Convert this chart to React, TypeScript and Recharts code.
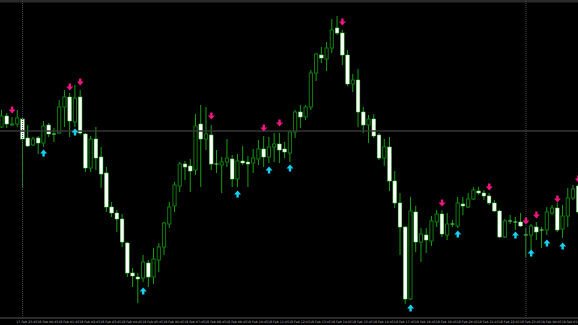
import React from 'react';
import { ComposedChart, Bar, Scatter, XAxis, YAxis, ReferenceLine } from 'recharts';

// M15 bars, oldest first
const opens = [
  1.08191, 1.08202, 1.08193, 1.08194, 1.08199, 1.0818, 1.08173, 1.0818, 1.08175, 1.08193,
  1.08184, 1.08185, 1.08211, 1.08221, 1.08196, 1.08221, 1.08184, 1.0815, 1.08179, 1.08161,
  1.08145, 1.08111, 1.08105, 1.08099, 1.08075, 1.08045, 1.08041, 1.0804, 1.08055, 1.08041,
  1.08058, 1.08071, 1.08094, 1.08112, 1.08132, 1.08154, 1.08152, 1.08148, 1.08194, 1.08179,
  1.08183, 1.08154, 1.08153, 1.08156, 1.08159, 1.08139, 1.08157, 1.08156, 1.08155, 1.08159,
  1.08169, 1.08161, 1.08171, 1.08174, 1.08169, 1.08165, 1.08186, 1.08206, 1.08201, 1.08211,
  1.08245, 1.08263, 1.08259, 1.0827, 1.0829, 1.08285, 1.08263, 1.08234, 1.08238, 1.08206,
  1.08193, 1.08199, 1.08183, 1.0816, 1.08171, 1.08137, 1.08115, 1.08091, 1.08019, 1.08106,
  1.08076, 1.08083, 1.08077, 1.08096, 1.08104, 1.08083, 1.08094, 1.08092, 1.08114, 1.08111,
  1.08119, 1.08127, 1.08125, 1.08122, 1.08115, 1.08107, 1.08081, 1.08097, 1.08096, 1.08096,
  1.08083, 1.08083, 1.08091, 1.08088, 1.08088, 1.08105, 1.0811, 1.08089, 1.08102, 1.0812, 1.08132,
];
const highs = [
  1.08208, 1.08205, 1.08201, 1.08208, 1.08201, 1.08193, 1.08181, 1.08182, 1.08197, 1.08195,
  1.0819, 1.08218, 1.08228, 1.08225, 1.08233, 1.08228, 1.08185, 1.08182, 1.08191, 1.08171,
  1.08151, 1.08116, 1.08108, 1.08104, 1.08076, 1.0805, 1.08045, 1.08063, 1.08058, 1.0807,
  1.08075, 1.08096, 1.08116, 1.08136, 1.08156, 1.08157, 1.08159, 1.08204, 1.08213, 1.08211,
  1.08193, 1.08168, 1.08161, 1.08179, 1.08163, 1.08164, 1.08172, 1.08162, 1.08169, 1.08178,
  1.08182, 1.08181, 1.08185, 1.08185, 1.08176, 1.08188, 1.08208, 1.08213, 1.08213, 1.08248,
  1.08265, 1.08271, 1.08276, 1.08299, 1.08302, 1.08288, 1.08268, 1.08244, 1.08249, 1.08211,
  1.08203, 1.08204, 1.08185, 1.08179, 1.08181, 1.08147, 1.08125, 1.08092, 1.08121, 1.08112,
  1.0809, 1.0809, 1.08102, 1.08108, 1.08108, 1.08105, 1.08098, 1.08121, 1.08121, 1.08125,
  1.08131, 1.08131, 1.08128, 1.08125, 1.08118, 1.08108, 1.08099, 1.08103, 1.08101, 1.08105,
  1.0809, 1.08094, 1.08096, 1.08091, 1.08111, 1.08113, 1.08115, 1.08113, 1.0813, 1.08133, 1.08134,
];
const lows = [
  1.0819, 1.0819, 1.08192, 1.08191, 1.08131, 1.08171, 1.08172, 1.08164, 1.08171, 1.08181,
  1.08176, 1.08184, 1.08191, 1.08181, 1.08191, 1.08183, 1.08146, 1.08146, 1.08148, 1.0813,
  1.08106, 1.08101, 1.08086, 1.08071, 1.08041, 1.08031, 1.08015, 1.08036, 1.08031, 1.08034,
  1.08046, 1.08063, 1.0809, 1.08106, 1.08126, 1.08138, 1.08126, 1.08143, 1.08131, 1.08168,
  1.08148, 1.08145, 1.08125, 1.08151, 1.08131, 1.08131, 1.08153, 1.08131, 1.08145, 1.08153,
  1.08151, 1.08155, 1.08156, 1.08155, 1.0816, 1.08156, 1.0818, 1.0819, 1.08198, 1.08208,
  1.08237, 1.08255, 1.08247, 1.08265, 1.08283, 1.08253, 1.08232, 1.08226, 1.08191, 1.08185,
  1.08175, 1.0818, 1.08158, 1.08152, 1.08127, 1.0811, 1.08063, 1.08014, 1.08018, 1.08066,
  1.08056, 1.08065, 1.08072, 1.08091, 1.08081, 1.08078, 1.08091, 1.0809, 1.08103, 1.0811,
  1.08118, 1.08123, 1.08118, 1.08113, 1.08106, 1.0808, 1.0808, 1.08094, 1.08088, 1.08091,
  1.08061, 1.08065, 1.08078, 1.0807, 1.08083, 1.08103, 1.08086, 1.0808, 1.08091, 1.08118, 1.08104,
];
const closes = [
  1.08202, 1.08194, 1.08194, 1.082, 1.08179, 1.08172, 1.08179, 1.08175, 1.08192, 1.08184,
  1.08184, 1.08211, 1.08221, 1.08197, 1.0822, 1.08185, 1.0815, 1.08179, 1.0816, 1.08144,
  1.08111, 1.08105, 1.08099, 1.08076, 1.08045, 1.08042, 1.08039, 1.08056, 1.08041, 1.08059,
  1.08071, 1.08095, 1.08111, 1.08133, 1.08154, 1.08151, 1.08147, 1.08192, 1.08179, 1.08184,
  1.08154, 1.08154, 1.08156, 1.0816, 1.08139, 1.08157, 1.08155, 1.08154, 1.0816, 1.08169,
  1.08161, 1.08171, 1.08174, 1.08168, 1.08166, 1.08186, 1.08206, 1.08201, 1.08211, 1.08245,
  1.08264, 1.0826, 1.0827, 1.08288, 1.08285, 1.08263, 1.08234, 1.08238, 1.08206, 1.08193,
  1.08199, 1.08182, 1.0816, 1.08171, 1.08137, 1.08115, 1.08091, 1.08019, 1.08107, 1.08076,
  1.08084, 1.08078, 1.08097, 1.08104, 1.08084, 1.08094, 1.08094, 1.08115, 1.08112, 1.08119,
  1.08128, 1.08125, 1.08122, 1.08115, 1.08107, 1.08081, 1.08097, 1.08097, 1.08096, 1.08092,
  1.08083, 1.08092, 1.08086, 1.08088, 1.08106, 1.0811, 1.08088, 1.08102, 1.0812, 1.08129, 1.08106,
];

// signal arrows (bar index, price)
const sellBars = [2, 13, 15, 40, 50, 53, 65, 84, 93, 100, 102, 106, 110];
const sellPrices = [1.08208, 1.08231, 1.08236, 1.08202, 1.0819, 1.08195, 1.08296, 1.08115, 1.08131, 1.08097, 1.08103, 1.08119, 1.08139];
const buyBars = [8, 14, 27, 45, 51, 55, 78, 87, 98, 101, 104, 107];
const buyPrices = [1.08165, 1.08186, 1.08027, 1.08124, 1.08148, 1.0815, 1.0801, 1.08084, 1.08083, 1.08065, 1.08075, 1.08072];

const tickBars = [3, 7, 11, 15, 19, 23, 27, 31, 35, 39, 43, 47, 51, 55, 59, 63, 67, 71, 75, 79, 83, 87, 91, 95, 99, 103, 107];
const tickLabels = [
  '17 Feb 23:45', '18 Feb 00:45', '18 Feb 01:45', '18 Feb 02:45', '18 Feb 03:45', '18 Feb 04:45',
  '18 Feb 05:45', '18 Feb 06:45', '18 Feb 07:45', '18 Feb 08:45', '18 Feb 09:45', '18 Feb 10:45',
  '18 Feb 11:45', '18 Feb 12:45', '18 Feb 13:45', '18 Feb 14:45', '18 Feb 15:45', '18 Feb 16:45',
  '18 Feb 17:45', '18 Feb 18:45', '18 Feb 19:45', '18 Feb 20:45', '18 Feb 21:45', '18 Feb 22:45',
  '18 Feb 23:45', '19 Feb 00:45', '19 Feb 01:45',
];

const separators = [4, 100];
const priceLine = 1.08187;

const data = opens.map((open, i) => ({
  i,
  open,
  high: highs[i],
  low: lows[i],
  close: closes[i],
  sell: sellBars.includes(i) ? sellPrices[sellBars.indexOf(i)] : null,
  buy: buyBars.includes(i) ? buyPrices[buyBars.indexOf(i)] : null,
}));

const WICK = '#15a015';
const BULL = '#0f7a0f';

const Candle = (props: any) => {
  const { x, y, width, height, payload } = props;
  const { open, high, low, close } = payload;
  const top = Math.min(y, y + height);
  const h = Math.abs(height);
  const cx = x + width / 2;
  const py = (p: number) => top + ((high - p) / (high - low)) * h;
  const yo = py(open);
  const yc = py(close);
  let body;
  if (open === close) {
    body = <line x1={cx - 2} x2={cx + 2} y1={yo} y2={yo} stroke="#6be86b" strokeWidth={1} />;
  } else if (close > open) {
    body = <rect x={cx - 1.6} y={yc} width={3.2} height={Math.max(yo - yc, 1)} fill="#000" stroke={BULL} strokeWidth={1} />;
  } else {
    body = <rect x={cx - 1.8} y={yo} width={3.6} height={Math.max(yc - yo, 1.2)} fill="#fff" stroke="#55e055" strokeWidth={0.5} />;
  }
  return (
    <g>
      <line x1={cx} x2={cx} y1={top} y2={top + h} stroke={WICK} strokeWidth={1} />
      {body}
    </g>
  );
};

const SellArrow = (props: any) => {
  const { cx, cy, payload } = props;
  if (payload == null || payload.sell == null || !isFinite(cy)) return <g />;
  const pts = [
    [cx - 1.2, cy - 3.6], [cx + 1.2, cy - 3.6], [cx + 1.2, cy - 0.6], [cx + 3.5, cy - 0.6],
    [cx, cy + 3.6], [cx - 3.5, cy - 0.6], [cx - 1.2, cy - 0.6],
  ].map((p) => p.join(',')).join(' ');
  return <polygon points={pts} fill="#ee1782" />;
};

const BuyArrow = (props: any) => {
  const { cx, cy, payload } = props;
  if (payload == null || payload.buy == null || !isFinite(cy)) return <g />;
  const pts = [
    [cx - 1.2, cy + 3.6], [cx + 1.2, cy + 3.6], [cx + 1.2, cy + 0.6], [cx + 3.5, cy + 0.6],
    [cx, cy - 3.6], [cx - 3.5, cy + 0.6], [cx - 1.2, cy + 0.6],
  ].map((p) => p.join(',')).join(' ');
  return <polygon points={pts} fill="#14d2f2" />;
};

const TimeTick = (props: any) => {
  const { x, payload } = props;
  const k = tickBars.indexOf(payload.value);
  if (k < 0) return <g />;
  return (
    <text x={x - 1} y={322.6} fontSize={3.2} fill="#b8b8b8" fontFamily="DejaVu Sans" textAnchor="start">
      {tickLabels[k]}
    </text>
  );
};

export default function App() {
  return (
    <div style={{ position: 'fixed', left: 0, top: 0, width: 578, height: 325, overflow: 'hidden', background: '#000' }}>
      <div style={{ marginLeft: -1 }}>
        <ComposedChart width={582} height={325} data={data} margin={{ top: 0, right: 0, bottom: 0, left: 0 }} barCategoryGap={0}>
          <XAxis
            dataKey="i"
            type="category"
            interval={0}
            height={7}
            tickLine={false}
            axisLine={{ stroke: '#3a3a3a', strokeWidth: 1.5 }}
            tick={<TimeTick />}
          />
          <YAxis hide domain={[1.08, 1.08318]} allowDataOverflow />
          <ReferenceLine y={1.08317} stroke="#2a2a2a" strokeWidth={3} />
          <ReferenceLine y={priceLine} stroke="#363636" strokeWidth={1.5} />
          {separators.map((s) => (
            <ReferenceLine key={s} x={s} stroke="#4a4a4a" strokeDasharray="1 1" />
          ))}
          <Bar dataKey={(d: any) => [d.low, d.high]} shape={<Candle />} isAnimationActive={false} />
          <Scatter dataKey="sell" shape={<SellArrow />} isAnimationActive={false} />
          <Scatter dataKey="buy" shape={<BuyArrow />} isAnimationActive={false} />
        </ComposedChart>
      </div>
    </div>
  );
}
